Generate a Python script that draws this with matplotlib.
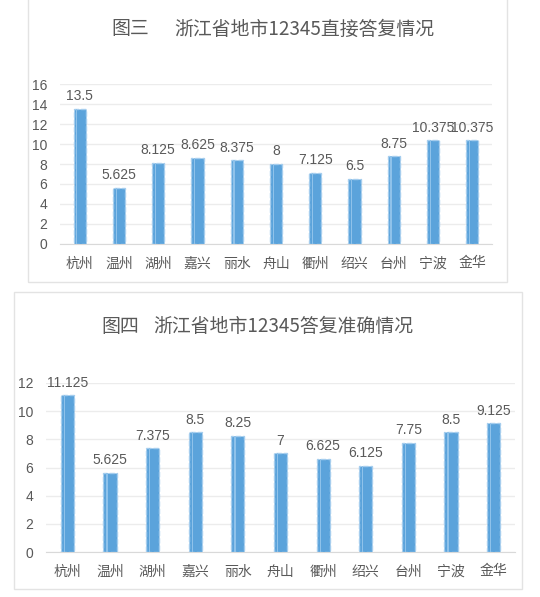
import matplotlib
matplotlib.use("Agg")
import matplotlib.pyplot as plt
from matplotlib.patches import Rectangle

# data
cities = ["杭州", "温州", "湖州", "嘉兴", "丽水", "舟山", "衢州", "绍兴", "台州", "宁波", "金华"]
direct_reply = [13.5, 5.625, 8.125, 8.625, 8.375, 8, 7.125, 6.5, 8.75, 10.375, 10.375]
accurate_reply = [11.125, 5.625, 7.375, 8.5, 8.25, 7, 6.625, 6.125, 7.75, 8.5, 9.125]
fig_no = ["图三", "图四"]
titles = ["浙江省地市12345直接答复情况", "浙江省地市12345答复准确情况"]

FONT = ["Liberation Sans", "Noto Sans CJK SC", "DejaVu Sans"]
plt.rcParams["font.family"] = FONT
TEXT = "#595959"
BAR = "#5ba3db"
EDGE = "#a5cdee"
GRID = "#ececec"

W, H = 540, 597
fig = plt.figure(figsize=(W / 100, H / 100), dpi=100)


def px_axes(left, top, right, bottom):
    return fig.add_axes([left / W, 1 - bottom / H, (right - left) / W, (bottom - top) / H])


def box(left, top, right, bottom):
    fig.patches.append(Rectangle((left / W, 1 - bottom / H), (right - left) / W, (bottom - top) / H,
                                 transform=fig.transFigure, fill=False, edgecolor="#e3e3e3", lw=1))


def title(x_no, x_txt, y, no, txt):
    kw = dict(ha="left", va="center", fontsize=13.6, color=TEXT, family=["Noto Sans CJK SC"])
    fig.text(x_no / W, 1 - y / H, no, **kw)
    fig.text(x_txt / W, 1 - y / H, txt, **kw)


def draw(ax, values, ymax, step):
    x = range(len(cities))
    ax.bar(x, values, width=0.31, color=BAR, edgecolor=EDGE, linestyle="--", linewidth=1.0, zorder=3)
    # lighter stripe inside each bar
    ax.bar([i - 0.07 for i in x], values, width=0.03, color="#8fc2ea", lw=0, zorder=4)
    for i, v in enumerate(values):
        ax.annotate(f"{v:g}", (i, v), xytext=(0, 4), textcoords="offset points",
                    ha="center", va="bottom", fontsize=10, color=TEXT)
    ax.set_xlim(-0.5, len(cities) - 0.5)
    ax.set_ylim(0, ymax)
    ax.set_yticks(range(0, ymax + 1, step))
    ax.set_xticks(list(x))
    ax.set_xticklabels(cities)
    ax.grid(axis="y", color=GRID, lw=1, zorder=0)
    for s in ["top", "right", "left"]:
        ax.spines[s].set_visible(False)
    ax.spines["bottom"].set_color("#d9d9d9")
    ax.tick_params(length=0, labelsize=10, colors=TEXT)
    ax.tick_params(axis="y", pad=9)
    ax.tick_params(axis="x", pad=9)


box(28, -2, 507, 282)
ax1 = px_axes(60, 84, 492, 244)
draw(ax1, direct_reply, 16, 2)
title(111, 174, 29, fig_no[0], titles[0])

box(14, 292, 522, 589)
ax2 = px_axes(46, 383, 515, 552)
draw(ax2, accurate_reply, 12, 2)
title(101, 153, 327, fig_no[1], titles[1])

fig.savefig("out.png", dpi=100)
